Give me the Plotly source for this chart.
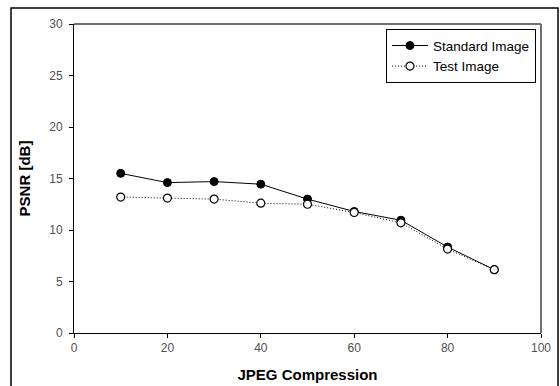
import plotly.graph_objects as go

compression = [10, 20, 30, 40, 50, 60, 70, 80, 90]
standard_psnr = [15.5, 14.6, 14.7, 14.45, 13.0, 11.8, 10.95, 8.35, 6.15]
test_psnr = [13.2, 13.1, 13.0, 12.6, 12.5, 11.7, 10.7, 8.15, 6.15]
x_ticks = [0, 20, 40, 60, 80, 100]
y_ticks = [0, 5, 10, 15, 20, 25, 30]

fig = go.Figure()
fig.add_trace(go.Scatter(
    x=compression, y=standard_psnr, mode="lines+markers", name="Standard Image",
    line=dict(color="black", width=1),
    marker=dict(symbol="circle", size=8, color="black", line=dict(color="black", width=1)),
))
fig.add_trace(go.Scatter(
    x=compression, y=test_psnr, mode="lines+markers", name="Test Image",
    line=dict(color="black", width=1, dash="1px,2px"),
    marker=dict(symbol="circle", size=8, color="white", line=dict(color="black", width=1.2)),
))

tick_font = dict(family="Liberation Sans, Arial, sans-serif", size=12, color="#505050")

fig.update_layout(
    template="none",
    width=560, height=386,
    margin=dict(l=74, r=19, t=24, b=53, autoexpand=False),
    paper_bgcolor="white", plot_bgcolor="white",
    font=dict(family="Liberation Sans, Arial, sans-serif", size=12, color="black"),
    showlegend=True,
    legend=dict(
        x=0.668, y=0.983, xanchor="left", yanchor="top",
        bordercolor="black", borderwidth=1, bgcolor="white",
        font=dict(size=13.5, color="black"),
        tracegroupgap=0, itemwidth=36,
    ),
    xaxis=dict(
        range=[0, 100], tickvals=x_ticks, showgrid=False, zeroline=False, automargin=False,
        showline=True, linecolor="black", linewidth=1, tickfont=tick_font,
        ticks="outside", ticklen=4, tickcolor="black",
        title=dict(text="<b>JPEG Compression</b>", font=dict(size=15, color="black"), standoff=15),
    ),
    yaxis=dict(
        range=[0, 30], tickvals=y_ticks, showgrid=False, zeroline=False, automargin=False,
        showline=True, linecolor="black", linewidth=1, tickfont=tick_font,
        ticks="outside", ticklen=4, tickcolor="black", ticklabelstandoff=4,
        title=dict(text="<b>PSNR [dB]</b>", font=dict(size=15, color="black"), standoff=14),
    ),
    shapes=[
        dict(type="line", xref="paper", yref="paper", x0=0, x1=1, y0=1, y1=1,
             line=dict(color="#707070", width=2)),
        dict(type="line", xref="paper", yref="paper", x0=1, x1=1, y0=0, y1=1,
             line=dict(color="#707070", width=2)),
        dict(type="rect", xref="paper", yref="paper",
             x0=(11 - 74) / 467, x1=(558 - 74) / 467,
             y0=-0.2, y1=(333 - 8) / 309,
             line=dict(color="black", width=1.5), fillcolor="rgba(0,0,0,0)"),
    ],
)

fig.write_html("out.html", config={"displayModeBar": False},
               post_script="document.body.style.margin='0';")
